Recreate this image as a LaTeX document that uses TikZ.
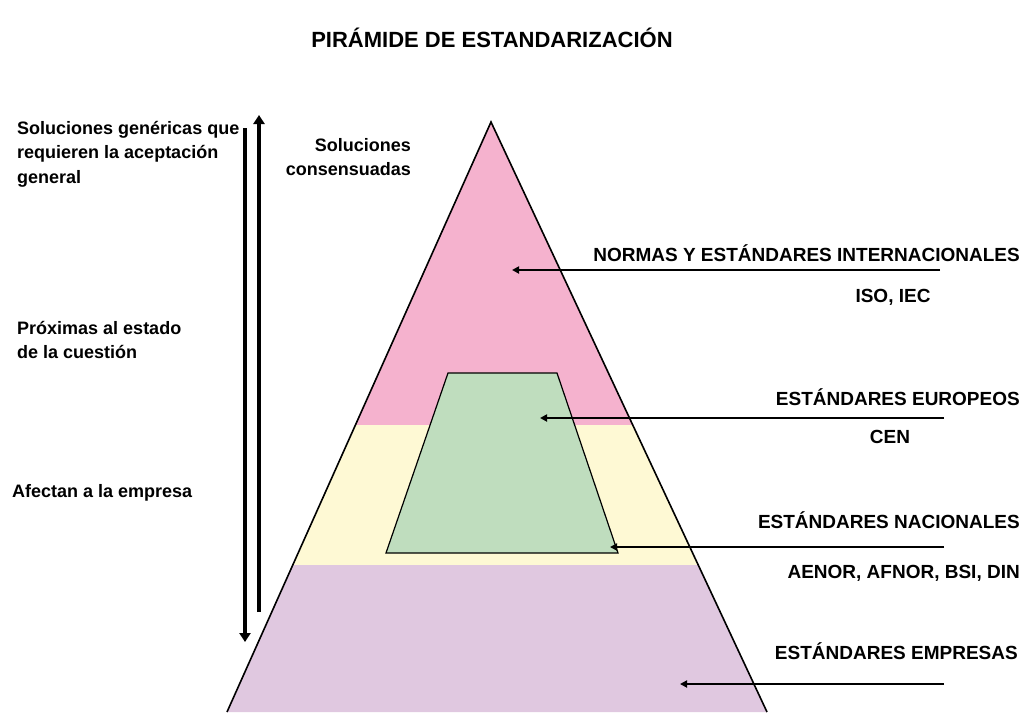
\documentclass[tikz,border=0pt]{standalone}
\usepackage{fontspec}
\setmainfont{Liberation Sans}
\usetikzlibrary{arrows.meta}
\usetikzlibrary{calc,positioning}

\definecolor{rosa}{RGB}{245,178,206}
\definecolor{crema}{RGB}{254,249,212}
\definecolor{lila}{RGB}{224,200,224}
\definecolor{verde}{RGB}{191,221,190}

\tikzset{
    etiqueta/.style={font=\bfseries\fontsize{19}{22}\selectfont, inner sep=0pt},
    nota/.style={font=\bfseries\fontsize{18}{24.5}\selectfont, inner sep=0pt, align=left},
    flecha/.style={line width=2pt, -{Triangle[width=7pt,length=7pt]}},
    eje/.style={line width=4pt, -{Triangle[width=11pt,length=9pt]}}
}

\begin{document}
\begin{tikzpicture}[x=1pt, y=-1pt]
    \useasboundingbox (0,0) rectangle (1027,712);
    \coordinate (cima) at (491,122);
    \coordinate (baseL) at (227,712);
    \coordinate (baseR) at (767,712);
    % bandas de la piramide
    \begin{scope}
        \clip (cima) -- (baseL) -- (baseR) -- cycle;
        \fill[rosa] (200,100) rectangle (800,425);
        \fill[crema] (200,425) rectangle (800,565);
        \fill[lila] (200,565) rectangle (800,720);
    \end{scope}
    \draw[line width=1.2pt, fill=verde] (448,373) -- (557,373) -- (618,553) -- (386,553) -- cycle;
    \draw[line width=1.6pt] (baseL) -- (cima) -- (baseR);

    \node[etiqueta, font=\bfseries\fontsize{22}{24}\selectfont] (titulo) at (492,38) {PIRÁMIDE DE ESTANDARIZACIÓN};

    % niveles
    \node[etiqueta, anchor=east] (inter) at (1020,253) {NORMAS Y ESTÁNDARES INTERNACIONALES};
    \node[etiqueta] (iso) at (893,297) {ISO, IEC};
    \node[etiqueta, anchor=east] (euro) at (1020,397) {ESTÁNDARES EUROPEOS};
    \node[etiqueta] (cen) at (890,437) {CEN};
    \node[etiqueta, anchor=east] (nac) at (1020,520) {ESTÁNDARES NACIONALES};
    \node[etiqueta, anchor=east] (aenor) at (1020,573) {AENOR, AFNOR, BSI, DIN};
    \node[etiqueta, anchor=east] (emp) at (1018,651) {ESTÁNDARES EMPRESAS};

    \coordinate (a1) at (940,270);  \coordinate (b1) at (512,270);
    \coordinate (a2) at (944,418);  \coordinate (b2) at (540,418);
    \coordinate (a3) at (944,547);  \coordinate (b3) at (610,547);
    \coordinate (a4) at (944,684);  \coordinate (b4) at (680,684);
    \draw[flecha] (a1) -- (b1);
    \draw[flecha] (a2) -- (b2);
    \draw[flecha] (a3) -- (b3);
    \draw[flecha] (a4) -- (b4);

    % columna izquierda
    \node[nota, anchor=north west] (generica) at (17,121) {Soluciones genéricas que\\requieren la aceptación\\general};
    \node[nota, anchor=north east, align=right] (consenso) at (411,138) {Soluciones\\consensuadas};
    \node[nota, anchor=north west] (proxima) at (17,321) {Próximas al estado\\de la cuestión};
    \node[nota, anchor=west] (afecta) at (12,493) {Afectan a la empresa};

    \coordinate (ab1) at (245,128); \coordinate (ab2) at (245,642);
    \coordinate (ar1) at (259,612); \coordinate (ar2) at (259,115);
    \draw[eje] (ab1) -- (ab2);
    \draw[eje] (ar1) -- (ar2);
\end{tikzpicture}
\end{document}
